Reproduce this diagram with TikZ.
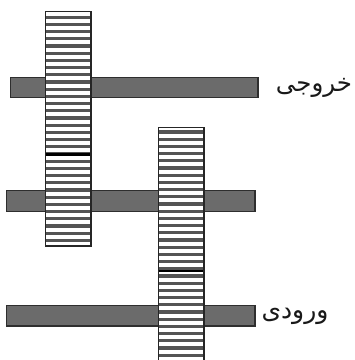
\documentclass[tikz,border=0pt]{standalone}
\usepackage{fontspec}
\newfontfamily\arabicfont[Script=Arabic]{DejaVu Sans}
\TeXXeTstate=1
\definecolor{barfill}{gray}{0.42}
\definecolor{barline}{gray}{0.18}
\definecolor{stripe}{gray}{0.33}
\tikzset{
  x=1pt,y=-1pt,
  hbar/.style={draw=barline,line width=1.6pt,fill=barfill},
  vframe/.style={draw=black!85,line width=1.5pt},
  stripeline/.style={draw=stripe,line width=3.3pt},
  heavy/.style={draw=black,line width=2.8pt},
  lab/.style={inner sep=0pt,text=black!90}
}
\begin{document}
\begin{tikzpicture}
\useasboundingbox (0,0) rectangle (355,360);
\fill[white] (0,0) rectangle (355,360);
% horizontal bars
\draw[hbar] (10.5,77.5) rectangle (258,97.5);
\draw[hbar] (6.5,190.5) rectangle (255,211.5);
\draw[hbar] (6.5,305.5) rectangle (255,326);
% left vertical
\fill[white] (45.5,11.5) rectangle (91,246);
\foreach \y in {0,...,31} {
  \draw[stripeline] (46,{17.2+\y*7.2}) -- (90.5,{17.2+\y*7.2});
}
\draw[vframe] (45.5,11.5) rectangle (91,246);
\draw[heavy] (46,154.5) -- (90.5,154.5);
% right vertical
\fill[white] (158.5,127.5) rectangle (204,360);
\foreach \y in {0,...,32} {
  \draw[stripeline] (159,{132+\y*7.2}) -- (203.5,{132+\y*7.2});
}
\draw[vframe] (158.5,362) -- (158.5,127.5) -- (204,127.5) -- (204,362);
\draw[heavy] (159,271) -- (203.5,271);
% labels
\node[lab,font=\arabicfont\fontsize{24.5}{28}\selectfont] (out) at (314,88) {\beginR خروجی\endR};
\node[lab,font=\arabicfont\fontsize{25}{29}\selectfont] (in) at (295,316) {\beginR ورودی\endR};
\end{tikzpicture}
\end{document}
